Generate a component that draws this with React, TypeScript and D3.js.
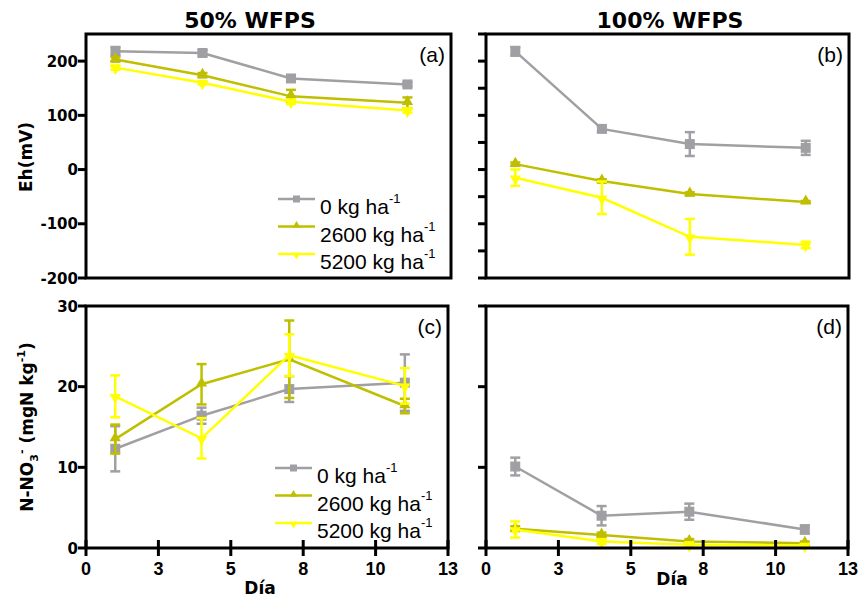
import * as d3 from "d3";

// sampling days (x positions)
const days = [1.05, 4.15, 7.3, 11.45];

// Eh (mV) – 50% WFPS
const ehA0 = [218, 215, 168, 157];
const ehA0Err = [8, 5, 4, 4];
const ehA2600 = [203, 174, 135, 123];
const ehA2600Err = [4, 4, 12, 10];
const ehA5200 = [188, 160, 125, 109];
const ehA5200Err = [4, 3, 4, 4];

// Eh (mV) – 100% WFPS
const ehB0 = [218, 75, 47, 40];
const ehB0Err = [8, 5, 22, 13];
const ehB2600 = [10, -21, -45, -60];
const ehB2600Err = [3, 3, 3, 2];
const ehB5200 = [-15, -52, -124, -139];
const ehB5200Err = [15, 30, 33, 6];

// N-NO3 (mgN/kg) – 50% WFPS
const no3C0 = [12.3, 16.4, 19.7, 20.5];
const no3C0Err = [2.8, 1.0, 1.6, 3.5];
const no3C2600 = [13.5, 20.3, 23.4, 17.6];
const no3C2600Err = [1.8, 2.5, 4.8, 0.9];
const no3C5200 = [18.8, 13.6, 23.9, 20.1];
const no3C5200Err = [2.6, 2.5, 2.6, 2.2];

// N-NO3 (mgN/kg) – 100% WFPS
const no3D0 = [10.1, 4.0, 4.5, 2.3];
const no3D0Err = [1.1, 1.2, 1.0, 0.5];
const no3D2600 = [2.4, 1.6, 0.8, 0.6];
const no3D2600Err = [0.3, 0.3, 0.3, 0.2];
const no3D5200 = [2.3, 0.8, 0.4, 0.3];
const no3D5200Err = [1.0, 0.3, 0.3, 0.2];

const doses = ["0", "2600", "5200"];
const colors = ["#a0a0a4", "#bfbf00", "#ffff00"];
const markers = ["square", "up", "down"];

const xTickVals = [0, 2.6, 5.2, 7.8, 10.4, 13];
const xTickLabels = ["0", "3", "5", "8", "10", "13"];
const ehTicks = [-200, -100, 0, 100, 200];
const ehMinorTicks = [-200, -150, -100, -50, 0, 50, 100, 150, 200, 250];
const no3Ticks = [0, 10, 20, 30];

const BOLD = "'DejaVu Sans', sans-serif";
const ARIAL = "'Liberation Sans', Arial, sans-serif";

type Series = { y: number[]; err: number[] };
type Rect = { x0: number; x1: number; y0: number; y1: number };

function Marker({ kind, x, y, color, s }: { kind: string; x: number; y: number; color: string; s: number }) {
  if (kind === "square") {
    return <rect x={x - s / 2} y={y - s / 2} width={s} height={s} fill={color} />;
  }
  const sym = d3.symbol().type(d3.symbolTriangle).size(s * s * 0.55)();
  return (
    <path
      d={sym || ""}
      fill={color}
      transform={`translate(${x},${y + (kind === "up" ? -1 : 1)}) rotate(${kind === "up" ? 0 : 180})`}
    />
  );
}

function Panel({
  rect,
  domain,
  ticks,
  showLabels,
  series,
  showXAxis,
  label,
  legend,
}: {
  rect: Rect;
  domain: [number, number];
  ticks: number[];
  showLabels: boolean;
  series: Series[];
  showXAxis: boolean;
  label: string;
  legend?: { x: number; y: number };
}) {
  const x = d3.scaleLinear().domain([0, 13]).range([rect.x0, rect.x1]);
  const y = d3.scaleLinear().domain(domain).range([rect.y1, rect.y0]);
  const line = d3
    .line<number>()
    .x((_, i) => x(days[i]))
    .y((d) => y(d));

  return (
    <g>
      {series.map((s, k) => (
        <g key={k}>
          <path d={line(s.y) || ""} fill="none" stroke={colors[k]} strokeWidth={2.5} />
          {s.y.map((v, i) => {
            const cx = x(days[i]);
            const top = y(v + s.err[i]);
            const bot = y(v - s.err[i]);
            return (
              <g key={i} stroke={colors[k]} strokeWidth={2.5}>
                <line x1={cx} x2={cx} y1={top} y2={bot} />
                <line x1={cx - 5} x2={cx + 5} y1={top} y2={top} />
                <line x1={cx - 5} x2={cx + 5} y1={bot} y2={bot} />
              </g>
            );
          })}
          {s.y.map((v, i) => (
            <Marker key={"m" + i} kind={markers[k]} x={x(days[i])} y={y(v)} color={colors[k]} s={10} />
          ))}
        </g>
      ))}

      {/* frame */}
      <rect
        x={rect.x0}
        y={rect.y0}
        width={rect.x1 - rect.x0}
        height={rect.y1 - rect.y0}
        fill="none"
        stroke="#000"
        strokeWidth={3}
      />

      {/* y ticks */}
      {ticks.map((t) => (
        <g key={t}>
          <line x1={rect.x0 - 8} x2={rect.x0} y1={y(t)} y2={y(t)} stroke="#000" strokeWidth={3} />
          {showLabels && (
            <text
              x={rect.x0 - 8}
              y={y(t) + 5.5}
              textAnchor="end"
              fontFamily={BOLD}
              fontWeight="bold"
              fontSize={15}
            >
              {t}
            </text>
          )}
        </g>
      ))}

      {/* x axis ticks */}
      {showXAxis &&
        xTickVals.map((t, i) => (
          <g key={"x" + t}>
            <line x1={x(t)} x2={x(t)} y1={rect.y1 - 8} y2={rect.y1 + 8} stroke="#000" strokeWidth={3} />
            <text x={x(t)} y={rect.y1 + 27} textAnchor="middle" fontFamily={ARIAL} fontWeight="bold" fontSize={18}>
              {xTickLabels[i]}
            </text>
          </g>
        ))}

      <text x={rect.x1 - 6} y={rect.y0 + 28} textAnchor="end" fontFamily={ARIAL} fontSize={21}>
        {label}
      </text>

      {legend &&
        doses.map((d, k) => {
          const ly = legend.y + k * 27.5;
          return (
            <g key={"lg" + k}>
              <line x1={legend.x} x2={legend.x + 37} y1={ly} y2={ly} stroke={colors[k]} strokeWidth={2.5} />
              <Marker kind={markers[k]} x={legend.x + 18.5} y={ly} color={colors[k]} s={7} />
              <text x={legend.x + 42} y={ly + 15} fontFamily={ARIAL} fontSize={21}>
                {d} kg ha
                <tspan fontSize={13} dy={-11}>
                  -1
                </tspan>
              </text>
            </g>
          );
        })}
    </g>
  );
}

export default function App() {
  const mk = (ys: number[][], es: number[][]) => ys.map((y, i) => ({ y, err: es[i] }));

  return (
    <svg
      width={858}
      height={601}
      viewBox="0 0 858 601"
      style={{ position: "absolute", left: 0, top: 0, background: "#fff" }}
    >
      <text x={250} y={28} textAnchor="middle" fontFamily={BOLD} fontWeight="bold" fontSize={22}>
        50% WFPS
      </text>
      <text x={670} y={28} textAnchor="middle" fontFamily={BOLD} fontWeight="bold" fontSize={22}>
        100% WFPS
      </text>

      <Panel
        rect={{ x0: 486, x1: 849, y0: 34, y1: 278 }}
        domain={[-200, 250]}
        ticks={ehMinorTicks}
        showLabels={false}
        series={mk([ehB0, ehB2600, ehB5200], [ehB0Err, ehB2600Err, ehB5200Err])}
        showXAxis={false}
        label="(b)"
      />
      <Panel
        rect={{ x0: 86, x1: 451, y0: 34, y1: 278 }}
        domain={[-200, 250]}
        ticks={ehTicks}
        showLabels={true}
        series={mk([ehA0, ehA2600, ehA5200], [ehA0Err, ehA2600Err, ehA5200Err])}
        showXAxis={false}
        label="(a)"
        legend={{ x: 278, y: 199 }}
      />
      <Panel
        rect={{ x0: 86, x1: 448, y0: 306, y1: 548 }}
        domain={[0, 30]}
        ticks={no3Ticks}
        showLabels={true}
        series={mk([no3C0, no3C2600, no3C5200], [no3C0Err, no3C2600Err, no3C5200Err])}
        showXAxis={true}
        label="(c)"
        legend={{ x: 275, y: 468 }}
      />
      <Panel
        rect={{ x0: 486, x1: 848, y0: 306, y1: 548 }}
        domain={[0, 30]}
        ticks={no3Ticks}
        showLabels={false}
        series={mk([no3D0, no3D2600, no3D5200], [no3D0Err, no3D2600Err, no3D5200Err])}
        showXAxis={true}
        label="(d)"
      />

      <text
        transform="translate(32,157) rotate(-90)"
        textAnchor="middle"
        fontFamily={BOLD}
        fontWeight="bold"
        fontSize={17}
      >
        Eh(mV)
      </text>
      <text
        transform="translate(33,427) rotate(-90)"
        textAnchor="middle"
        fontFamily={BOLD}
        fontWeight="bold"
        fontSize={17}
      >
        N-NO
        <tspan fontSize={11} dy={5}>
          3
        </tspan>
        <tspan fontSize={11} dy={-13}>
          -
        </tspan>
        <tspan dy={8}> (mgN kg</tspan>
        <tspan fontSize={11} dy={-8}>
          -1
        </tspan>
        <tspan dy={8}>)</tspan>
      </text>

      <text x={260} y={594} textAnchor="middle" fontFamily={BOLD} fontWeight="bold" fontSize={17}>
        Día
      </text>
      <text x={672} y={585} textAnchor="middle" fontFamily={BOLD} fontWeight="bold" fontSize={17}>
        Día
      </text>
    </svg>
  );
}
